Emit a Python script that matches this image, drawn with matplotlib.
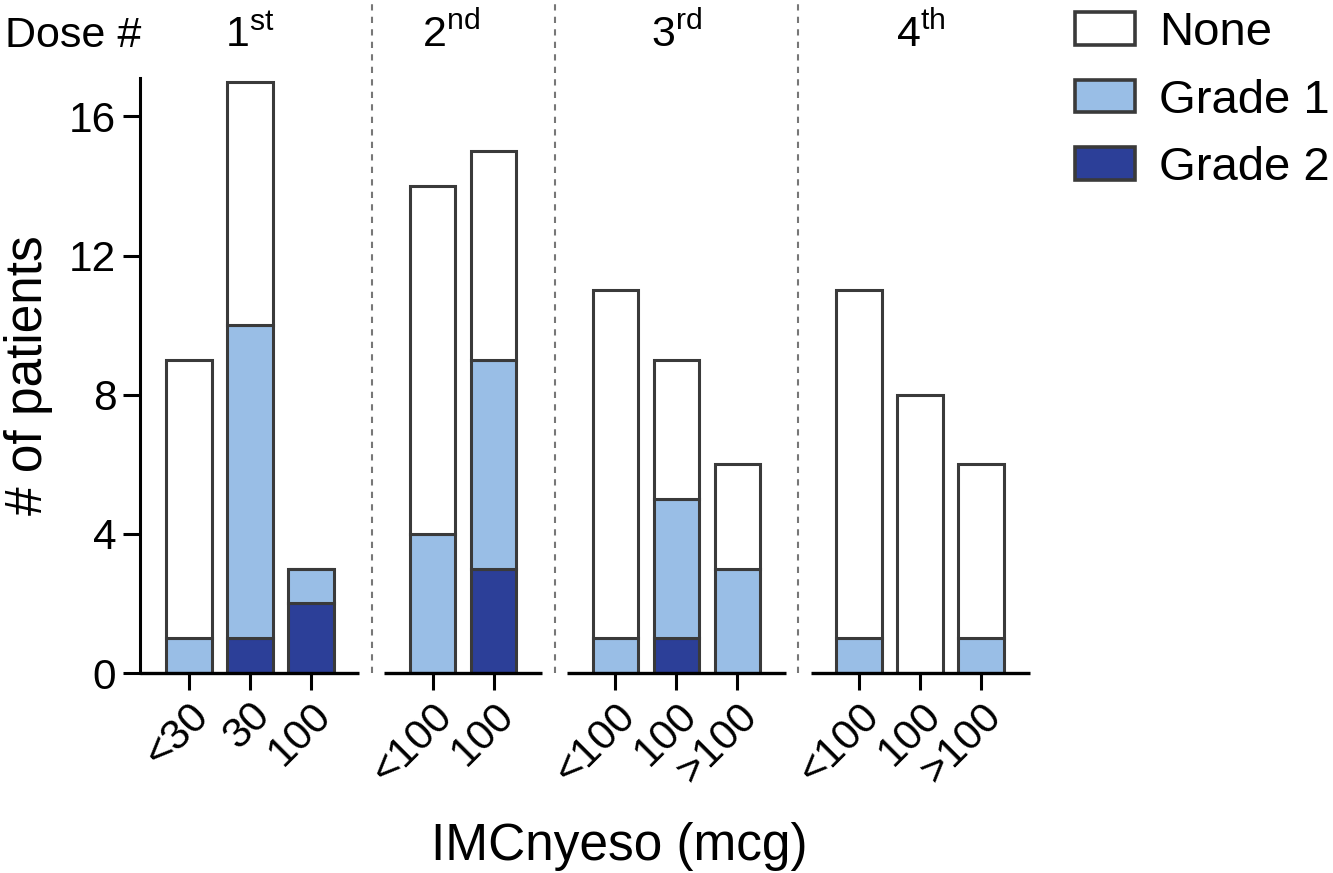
import matplotlib
matplotlib.use('Agg')
import matplotlib.pyplot as plt
import matplotlib.transforms as mtransforms
import numpy as np
from matplotlib.patches import Patch

plt.rcParams['font.family'] = ['Liberation Sans', 'DejaVu Sans']
plt.rcParams['mathtext.fontset'] = 'custom'
plt.rcParams['mathtext.rm'] = 'Liberation Sans'
plt.rcParams['mathtext.it'] = 'Liberation Sans:italic'

# 数据
dose_names = ['1$^{\\mathrm{st}}$', '2$^{\\mathrm{nd}}$', '3$^{\\mathrm{rd}}$', '4$^{\\mathrm{th}}$']
group_sizes = [3, 2, 3, 3]
dose_labels = ['<30', '30', '100', '<100', '100', '<100', '100', '>100', '<100', '100', '>100']
grade2 = [0, 1, 2, 0, 3, 0, 1, 0, 0, 0, 0]
grade1 = [1, 9, 1, 4, 6, 1, 4, 3, 1, 0, 1]
none = [8, 7, 0, 10, 6, 10, 4, 3, 10, 8, 5]

C_NONE = 'white'
C_G1 = '#99bee6'
C_G2 = '#2c3f98'
EDGE = '#3a3a3a'


def main():
    fig = plt.figure(figsize=(13.33, 8.73), dpi=100)
    ax = fig.add_axes([0.105, 0.229, 0.6677, 0.6816])

    # 每组的位置
    xs, segments, dividers, centers = [], [], [], []
    start = 0.0
    for n in group_sizes:
        pos = start + 0.8 + np.arange(n)
        xs.extend(pos)
        centers.append(pos.mean())
        segments.append((start, start + n + 0.6))
        dividers.append(start + n + 0.8)
        start += n + 1.0
    dividers = dividers[:-1]
    xs = np.array(xs)

    g2 = np.array(grade2)
    g1 = np.array(grade1)
    nn = np.array(none)
    kw = dict(width=0.75, edgecolor=EDGE, linewidth=2.2, zorder=3)
    ax.bar(xs, g2, color=C_G2, **kw)
    ax.bar(xs, g1, bottom=g2, color=C_G1, **kw)
    ax.bar(xs, nn, bottom=g2 + g1, color=C_NONE, **kw)

    ax.set_xlim(0, 14.6)
    ax.set_ylim(0, 17.1)

    # 断开的x轴
    for s in ['bottom', 'top', 'right']:
        ax.spines[s].set_visible(False)
    ax.spines['left'].set_linewidth(2.2)
    for a, b in segments:
        ax.plot([a, b], [0, 0], color='black', lw=2.4, clip_on=False,
                solid_capstyle='butt', zorder=5)

    # 组之间的虚线
    for d in dividers:
        ax.axvline(d, ymin=0, ymax=1.131, color='#777777', lw=1.5,
                   ls=(0, (3, 3)), clip_on=False, zorder=1)

    ax.set_yticks([0, 4, 8, 12, 16])
    ax.set_xticks(xs)
    ax.set_xticklabels(dose_labels, rotation=45, ha='right', va='top',
                       rotation_mode='anchor')
    ax.tick_params(axis='both', length=12, width=2.2, labelsize=30.5, color='black')
    ax.tick_params(axis='y', pad=5)
    ax.tick_params(axis='x', pad=4)

    ax.set_ylabel('# of patients', fontsize=37, labelpad=12)
    fig.text(619 / 1333, 13 / 873, 'IMCnyeso (mcg)', fontsize=37,
             ha='center', va='baseline')

    # 顶部剂量标题
    trans = mtransforms.blended_transform_factory(ax.transData, fig.transFigure)
    fig.text(5 / 1333, 1 - 47 / 873, 'Dose #', fontsize=31, ha='left', va='baseline')
    shift = [0, -0.2, 0, 0]
    for c, dx, name in zip(centers, shift, dose_names):
        ax.text(c + dx, 1 - 47 / 873, name, fontsize=31, ha='center',
                va='baseline', transform=trans)

    handles = [Patch(facecolor=C_NONE, edgecolor=EDGE, linewidth=2.6, label='None'),
               Patch(facecolor=C_G1, edgecolor=EDGE, linewidth=2.6, label='Grade 1'),
               Patch(facecolor=C_G2, edgecolor=EDGE, linewidth=2.6, label='Grade 2')]
    fig.legend(handles=handles, loc='upper left', bbox_to_anchor=(1075 / 1333, 1 - 11 / 873),
               frameon=False, fontsize=34, handlelength=1.28, handleheight=0.68,
               handletextpad=0.5, labelspacing=0.5, borderpad=0, borderaxespad=0)

    fig.savefig('out.png', dpi=100)


if __name__ == '__main__':
    main()
